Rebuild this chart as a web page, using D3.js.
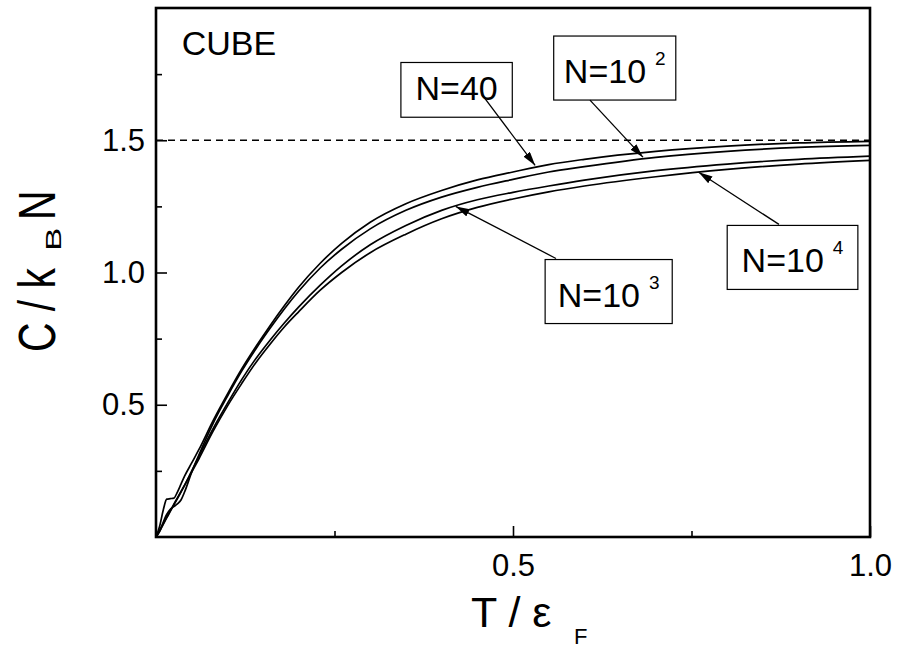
<!DOCTYPE html>
<html>
<head>
<meta charset="utf-8">
<script src="https://cdn.jsdelivr.net/npm/d3@7"></script>
<style>
  html, body { margin: 0; padding: 0; background: #fff; }
  svg { display: block; font-family: "Liberation Sans", Arial, sans-serif; }
</style>
</head>
<body>
<svg id="chart" width="900" height="649"></svg>
<script>
// heat capacity of a Fermi gas in a cube, four particle numbers
const tGrid   = [0, 0.005, 0.01, 0.015, 0.02, 0.025, 0.03, 0.035, 0.04, 0.05, 0.06, 0.08, 0.10, 0.12, 0.14, 0.16, 0.18, 0.20, 0.23, 0.26, 0.30, 0.35, 0.40, 0.45, 0.50, 0.55, 0.60, 0.70, 0.80, 0.90, 1.00];
const cN40    = [0, 0.04, 0.10, 0.143, 0.145, 0.147, 0.17, 0.20, 0.23, 0.28, 0.33, 0.44, 0.54, 0.635, 0.72, 0.80, 0.875, 0.945, 1.035, 1.11, 1.19, 1.26, 1.31, 1.35, 1.38, 1.408, 1.428, 1.458, 1.478, 1.49, 1.496];
const cN100   = [0, 0.02, 0.055, 0.085, 0.105, 0.115, 0.125, 0.14, 0.17, 0.245, 0.31, 0.43, 0.532, 0.627, 0.712, 0.79, 0.863, 0.93, 1.017, 1.088, 1.165, 1.235, 1.285, 1.322, 1.352, 1.38, 1.40, 1.435, 1.458, 1.473, 1.481];
const cN1000  = [0, 0.022, 0.047, 0.072, 0.097, 0.121, 0.145, 0.17, 0.195, 0.25, 0.305, 0.41, 0.505, 0.595, 0.675, 0.745, 0.81, 0.87, 0.952, 1.025, 1.105, 1.178, 1.235, 1.275, 1.303, 1.327, 1.349, 1.385, 1.41, 1.428, 1.44];
const cN10000 = [0, 0.025, 0.05, 0.075, 0.10, 0.124, 0.148, 0.172, 0.196, 0.245, 0.295, 0.40, 0.495, 0.58, 0.66, 0.73, 0.795, 0.852, 0.933, 1.0, 1.075, 1.145, 1.203, 1.246, 1.278, 1.305, 1.327, 1.362, 1.39, 1.41, 1.424];

const xMajor = [0.5, 1.0];
const xMinor = [0.25, 0.75];
const yMajor = [0.5, 1.0, 1.5];
const yMinor = [0.25, 0.75, 1.25, 1.75];
const classicalLimit = 1.5;

// boxed labels and their arrows, in data units
const labelMain  = ['N=40', 'N=10', 'N=10', 'N=10'];
const labelSup   = ['', '2', '3', '4'];
const boxT0      = [0.343, 0.557, 0.545, 0.800];
const boxT1      = [0.499, 0.728, 0.723, 0.983];
const boxCTop    = [1.794, 1.894, 1.049, 1.178];
const boxCBottom = [1.587, 1.652, 0.807, 0.936];
const arrowFromT = [0.4566, 0.6078, 0.5602, 0.8725];
const arrowFromC = [1.6723, 1.6515, 1.0530, 1.1818];
const arrowToT   = [0.531, 0.682, 0.4198, 0.760];
const arrowToC   = [1.405, 1.436, 1.250, 1.379];

const MARGIN = { left: 156, right: 30, top: 8, bottom: 112 };
const W = 900, H = 649;
const width = W - MARGIN.left - MARGIN.right;
const height = H - MARGIN.top - MARGIN.bottom;

const svg = d3.select('#chart');
const g = svg.append('g').attr('transform', `translate(${MARGIN.left},${MARGIN.top})`);

const x = d3.scaleLinear().domain([0, 1]).range([0, width]);
const y = d3.scaleLinear().domain([0, 2]).range([height, 0]);

svg.append('defs').append('marker')
    .attr('id', 'head')
    .attr('markerUnits', 'userSpaceOnUse')
    .attr('viewBox', '0 0 14 8')
    .attr('refX', 14).attr('refY', 4)
    .attr('markerWidth', 14).attr('markerHeight', 8)
    .attr('orient', 'auto')
    .append('path').attr('d', 'M0,0 L14,4 L0,8 Z').attr('fill', '#000');

// ticks (inward)
function styleAxis(sel) {
    sel.select('.domain').remove();
    sel.selectAll('line').attr('stroke', '#000').attr('stroke-width', 1.6);
    sel.selectAll('text').attr('fill', '#000').attr('font-size', 31)
        .attr('font-family', '"Liberation Sans", Arial, sans-serif');
}

g.append('g').attr('transform', `translate(0,${height})`)
    .call(d3.axisBottom(x).tickValues(xMajor).tickSize(-11).tickPadding(17).tickFormat(d3.format('.1f')))
    .call(styleAxis);
g.append('g').attr('transform', `translate(0,${height})`)
    .call(d3.axisBottom(x).tickValues(xMinor).tickSize(-6).tickFormat(''))
    .call(styleAxis);
g.append('g')
    .call(d3.axisLeft(y).tickValues(yMajor).tickSize(-11).tickPadding(11).tickFormat(d3.format('.1f')))
    .call(styleAxis);
g.append('g')
    .call(d3.axisLeft(y).tickValues(yMinor).tickSize(-6).tickFormat(''))
    .call(styleAxis);

// dashed 3/2 line
g.append('line')
    .attr('x1', x(0)).attr('x2', x(1))
    .attr('y1', y(classicalLimit)).attr('y2', y(classicalLimit))
    .attr('stroke', '#000').attr('stroke-width', 1.3)
    .attr('stroke-dasharray', '7,5');

// curves
const line = d3.line()
    .x(d => x(d[0]))
    .y(d => y(d[1]))
    .curve(d3.curveMonotoneX);

[cN40, cN100, cN1000, cN10000].forEach(c => {
    g.append('path')
        .datum(tGrid.map((t, i) => [t, c[i]]))
        .attr('fill', 'none')
        .attr('stroke', '#000')
        .attr('stroke-width', 1.7)
        .attr('stroke-linejoin', 'round')
        .attr('d', line);
});

// frame
g.append('rect')
    .attr('width', width).attr('height', height)
    .attr('fill', 'none').attr('stroke', '#000').attr('stroke-width', 2.6);

g.append('text')
    .attr('x', x(0.036)).attr('y', y(1.822))
    .attr('font-size', 34).attr('fill', '#000')
    .text('CUBE');

// boxed labels with arrows
labelMain.forEach((lab, i) => {
    const bx0 = x(boxT0[i]), bx1 = x(boxT1[i]);
    const by0 = y(boxCTop[i]), by1 = y(boxCBottom[i]);
    g.append('rect')
        .attr('x', bx0).attr('y', by0)
        .attr('width', bx1 - bx0).attr('height', by1 - by0)
        .attr('fill', '#fff').attr('stroke', '#000').attr('stroke-width', 1.2);
    const t = g.append('text')
        .attr('x', (bx0 + bx1) / 2).attr('y', by1 - 17)
        .attr('text-anchor', 'middle')
        .attr('font-size', 34).attr('fill', '#000');
    t.append('tspan').text(lab);
    if (labelSup[i]) {
        t.append('tspan').attr('dx', 9).attr('dy', -18).attr('font-size', 19).text(labelSup[i]);
    }
    g.append('line')
        .attr('x1', x(arrowFromT[i])).attr('y1', y(arrowFromC[i]))
        .attr('x2', x(arrowToT[i])).attr('y2', y(arrowToC[i]))
        .attr('stroke', '#000').attr('stroke-width', 1.3)
        .attr('marker-end', 'url(#head)');
});

// axis titles
svg.append('text')
    .attr('x', 471).attr('y', 627)
    .attr('font-size', 43).attr('fill', '#000')
    .text('T / ε');
svg.append('text')
    .attr('x', 574).attr('y', 644)
    .attr('font-size', 22).attr('fill', '#000')
    .text('F');

const yt = svg.append('g').attr('transform', 'translate(55,350) rotate(-90)');
yt.append('text')
    .attr('transform', 'translate(-2,0) scale(0.8,1)')
    .attr('font-size', 51).attr('fill', '#000')
    .text('C / k');
yt.append('text')
    .attr('transform', 'translate(99,6) scale(1.6,1)')
    .attr('font-size', 22).attr('fill', '#000')
    .text('B');
yt.append('text')
    .attr('transform', 'translate(130,0) scale(0.8,1)')
    .attr('font-size', 51).attr('fill', '#000')
    .text('N');
</script>
</body>
</html>
